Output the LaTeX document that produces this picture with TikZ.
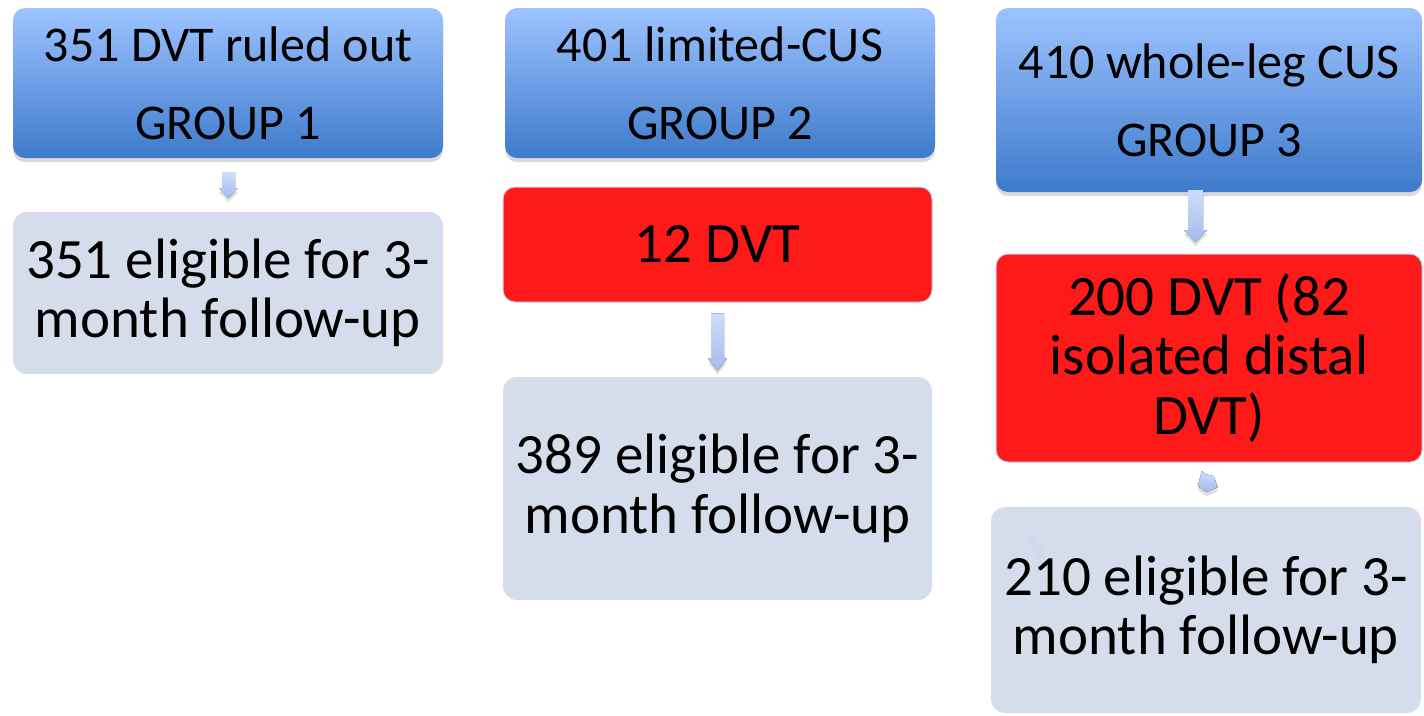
\documentclass[tikz,border=0pt]{standalone}
\usepackage{fontspec}
\setmainfont{Carlito}
\usetikzlibrary{shadows,calc}
\definecolor{bluetop}{RGB}{157,195,255}
\definecolor{bluebot}{RGB}{62,122,203}
\definecolor{redbox}{RGB}{255,26,26}
\definecolor{graybox}{RGB}{213,220,235}
\definecolor{arrtop}{RGB}{205,222,253}
\definecolor{arrbot}{RGB}{165,187,232}
\definecolor{rededge}{RGB}{200,208,225}
\definecolor{faintmark}{RGB}{200,210,230}
\newcommand{\blockarr}[5]{% #1 top coordinate, #2 length, #3 shaft half width, #4 head half width, #5 head length
  \fill[arrowfill] ($(#1)+(-#3,0)$) -- ($(#1)+(#3,0)$) -- ($(#1)+(#3,#2-#5)$) -- ($(#1)+(#4,#2-#5)$)
    -- ($(#1)+(0,#2)$) -- ($(#1)+(-#4,#2-#5)$) -- ($(#1)+(-#3,#2-#5)$) -- cycle;}
\begin{document}
\begin{tikzpicture}[x=1pt,y=-1pt,
  hdr/.style={rectangle, rounded corners=12pt, top color=bluetop, bottom color=bluebot,
    draw=none, inner sep=0pt, align=center, font=\fontsize{50}{78}\selectfont,
    drop shadow={shadow xshift=0pt, shadow yshift=-4pt, opacity=0.3}},
  redstep/.style={rectangle, rounded corners=12pt, fill=redbox, draw=rededge, line width=1pt,
    inner sep=0pt, align=center, font=\fontsize{57}{59.5}\selectfont},
  graystep/.style={rectangle, rounded corners=14pt, fill=graybox, draw=none,
    inner sep=0pt, align=center, font=\fontsize{57}{59.5}\selectfont},
  arrowfill/.style={top color=arrtop, bottom color=arrbot,
    drop shadow={shadow xshift=0pt, shadow yshift=-4pt, opacity=0.25}}
]
\useasboundingbox (0,0) rectangle (1424,715);

% headers
\node[hdr, minimum width=430pt, minimum height=150pt] (g1) at (228,83) {351 DVT ruled out\\GROUP 1};
\node[hdr, minimum width=430pt, minimum height=150pt] (g2) at (720,83) {401 limited-CUS\\GROUP 2};
\node[hdr, minimum width=426pt, minimum height=184pt] (g3) at (1209,100) {410 whole-leg CUS\\GROUP 3};

% red boxes
\node[redstep, minimum width=429pt, minimum height=115pt] (r1) at (717.5,244.5) {12 DVT};
\node[redstep, minimum width=426pt, minimum height=208pt] (r2) at (1209,358) {200 DVT (82\\isolated distal\\DVT)};

% gray boxes
\node[graystep, minimum width=430pt, minimum height=162pt] (e1) at (228,293) {351 eligible for 3-\\month follow-up};
\node[graystep, minimum width=429pt, minimum height=223pt] (e2) at (717.5,488.5) {389 eligible for 3-\\month follow-up};
\node[graystep, minimum width=430pt, minimum height=206pt] (e3) at (1206,610) {210 eligible for 3-\\month follow-up};

% faint mark inside e3
\fill[faintmark, opacity=0.35, rounded corners=3pt] (1026,538) -- (1034,534) -- (1046,553) -- (1040,560) -- cycle;

% block arrows
\coordinate (t1) at ($(g1.south)+(0.5,14)$);
\coordinate (t2) at ($(r1.south)+(0,11)$);
\coordinate (t3) at ($(g3.south)+(-13.5,-2)$);
\blockarr{t1}{26}{6.5}{9.5}{10}
\blockarr{t2}{57}{6.5}{9.5}{12}
\blockarr{t3}{52}{7.5}{11.5}{12}

% small pentagon arrow between r2 and e3
\coordinate (p) at ($(r2.south)!0.42!(e3.north)$);
\fill[arrowfill]
  ($(p)+(-6,-10)$) -- ($(p)+(-2,-7)$) -- ($(p)+(6,-5)$) -- ($(p)+(10,6)$) -- ($(p)+(-1,11)$) -- ($(p)+(-10,5)$) -- cycle;
\end{tikzpicture}
\end{document}
